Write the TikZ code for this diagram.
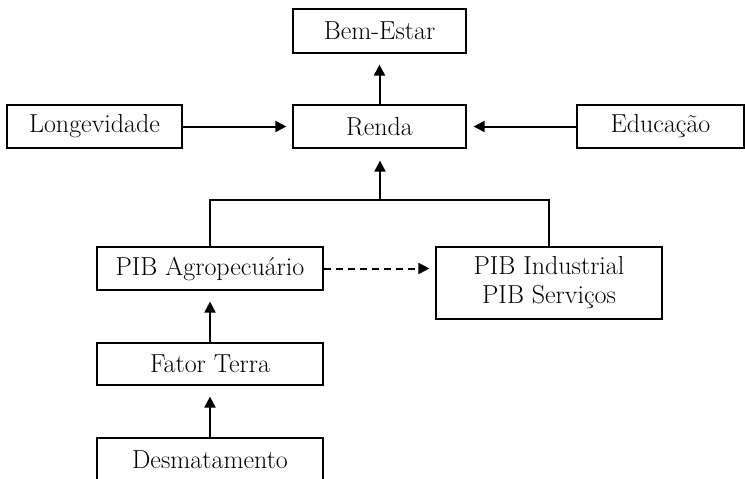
\documentclass[tikz,border=0pt]{standalone}
\usetikzlibrary{arrows.meta}
\begin{document}
\begin{tikzpicture}[x=1pt,y=-1pt,
  box/.style={draw,line width=1.2pt,inner sep=0pt,align=center,
    font=\fontsize{26}{29}\selectfont},
  conn/.style={line width=2pt,-{Triangle[length=11pt,width=11pt]}},
  link/.style={line width=1.2pt}]
\useasboundingbox (0,0) rectangle (745,479);
\node[box,minimum width=173pt,minimum height=44pt] (bem) at (379.5,31) {Bem-Estar};
\node[box,minimum width=173pt,minimum height=43pt] (renda) at (379.5,126.5) {Renda};
\node[box,minimum width=175pt,minimum height=43pt] (longe) at (94.5,126.5) {Longevidade};
\node[box,minimum width=167pt,minimum height=43pt] (edu) at (660.5,126.5) {Educação};
\node[box,minimum width=226pt,minimum height=43pt] (agro) at (210,268.5) {PIB Agropecuário};
\node[box,minimum width=226pt,minimum height=72pt] (ind) at (549,283) {PIB Industrial\\PIB Serviços};
\node[box,minimum width=226pt,minimum height=42pt] (fator) at (210,364) {Fator Terra};
\node[box,minimum width=226pt,minimum height=44pt] (desm) at (210,460) {Desmatamento};
\coordinate (bl) at (210,200);
\coordinate (br) at (549,200);
\coordinate (bm) at (380,200);
\draw[conn,shorten >=11pt] (renda.north) -- (bem.south);
\draw[conn,shorten >=6pt] (longe.east) -- (renda.west);
\draw[conn,shorten >=7pt] (edu.west) -- (renda.east);
\draw[link] (agro.north) -- (bl) -- (br) -- (ind.north);
\draw[conn,shorten >=12pt] (bm) -- (bm |- renda.south);
\draw[conn,dash pattern=on 7pt off 5pt,shorten >=6pt] (agro.east) -- (agro.east -| ind.west);
\draw[conn,shorten >=11pt] (fator.north) -- (agro.south);
\draw[conn,shorten >=11pt] (desm.north) -- (fator.south);
\end{tikzpicture}
\end{document}
